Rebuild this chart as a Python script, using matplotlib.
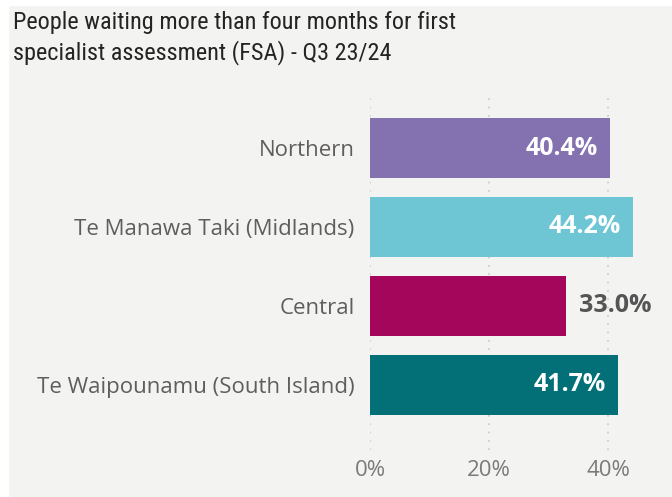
import matplotlib.pyplot as plt
from matplotlib.patches import Rectangle

regions = ['Northern', 'Te Manawa Taki (Midlands)', 'Central', 'Te Waipounamu (South Island)']
pct = [0.404, 0.442, 0.330, 0.417]
colors = ['#8471b0', '#6ec6d4', '#a3065b', '#037078']
label_inside = [True, True, False, True]
ticks = [0, 0.2, 0.4]
tick_labels = ['0%', '20%', '40%']

bg = '#f3f4f2'
fig = plt.figure(figsize=(6.72, 4.97), dpi=100, facecolor=bg)
# white strip along top and left edge, as in the screenshot
fig.patches.append(Rectangle((0, 0), 8 / 672, 1, transform=fig.transFigure, color='white', zorder=0))
fig.patches.append(Rectangle((0, 1 - 5 / 497), 1, 5 / 497, transform=fig.transFigure, color='white', zorder=0))

ax = fig.add_axes([0.5506, 0.0946, 0.425, 0.7183])
ax.set_facecolor(bg)

y = range(len(regions))
ax.barh(y, pct, height=0.76, color=colors, zorder=2)
ax.set_xlim(0, 0.48)
ax.set_ylim(3.83, -0.70)

ax.set_yticks(list(y))
ax.set_yticklabels(regions, fontsize=16, color='#605e5c', family='Open Sans')
ax.set_xticks(ticks)
ax.set_xticklabels(tick_labels, fontsize=16, color='#7a7a7a', family='Open Sans')
ax.tick_params(length=0, axis='y', pad=11)
ax.tick_params(length=0, axis='x', pad=7)
for s in ax.spines.values():
    s.set_visible(False)
ax.grid(axis='x', color='#c8c8c8', linestyle=(0, (1, 4)), linewidth=1.2, zorder=0)
ax.grid(axis='y', visible=False)

for i, (v, inside) in enumerate(zip(pct, label_inside)):
    txt = f'{v*100:.1f}%'
    if inside:
        ax.annotate(txt, (v, i), xytext=(-9, 0), textcoords='offset points',
                    ha='right', va='center', color='white', fontsize=18,
                    fontweight='bold', family='Open Sans')
    else:
        ax.annotate(txt, (v, i), xytext=(9, 0), textcoords='offset points',
                    ha='left', va='center', color='#555555', fontsize=18,
                    fontweight='bold', family='Open Sans')

fig.text(0.019, 0.978, 'People waiting more than four months for first\nspecialist assessment (FSA) - Q3 23/24',
         ha='left', va='top', fontsize=17.5, color='#252423',
         family='Roboto Condensed', linespacing=1.3)

fig.savefig('out.png', dpi=100, facecolor=bg)
